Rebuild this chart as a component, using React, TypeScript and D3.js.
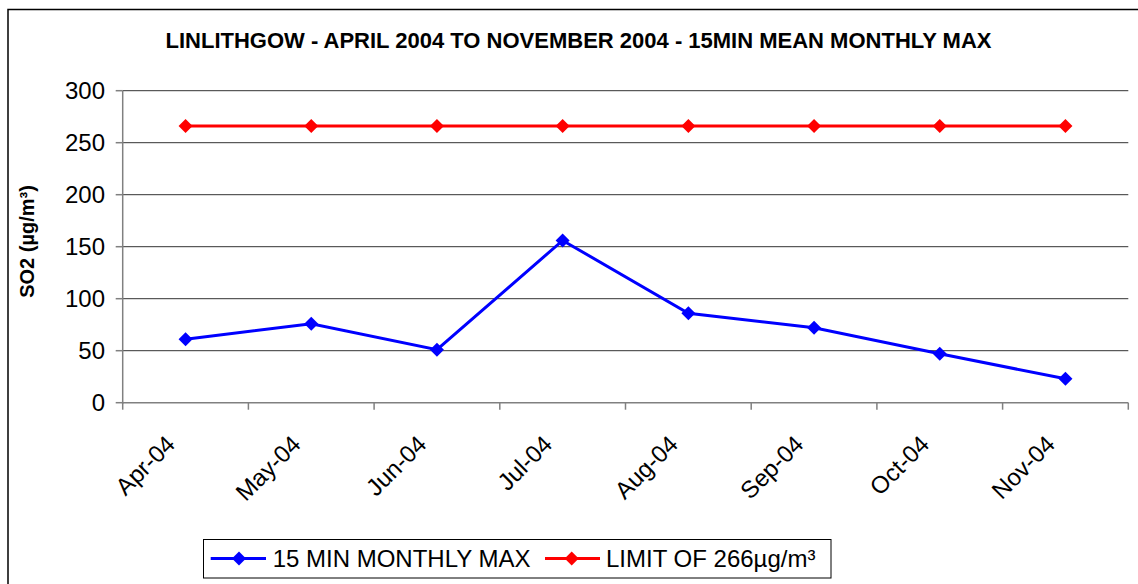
import React from "react";
import * as d3 from "d3";

const categories = ["Apr-04", "May-04", "Jun-04", "Jul-04", "Aug-04", "Sep-04", "Oct-04", "Nov-04"];
const monthlyMax = [61, 76, 51, 156, 86, 72, 47, 23];
const limitValues = [266, 266, 266, 266, 266, 266, 266, 266];
const yTicks = [0, 50, 100, 150, 200, 250, 300];
const seriesNames = ["15 MIN MONTHLY MAX", "LIMIT OF 266µg/m³"];
const title = "LINLITHGOW - APRIL 2004 TO NOVEMBER 2004 - 15MIN MEAN MONTHLY MAX";
const yTitle = "SO2 (µg/m³)";

const W = 1138;
const H = 584;
const X0 = 122.7;
const X1 = 1128.3;
const Y0 = 402.7;
const Y1 = 90.7;
const FONT = "'Liberation Sans', Arial, sans-serif";

function Diamond({ x, y, r, color }: { x: number; y: number; r: number; color: string }) {
  return <path d={`M${x},${y - r}L${x + r},${y}L${x},${y + r}L${x - r},${y}Z`} fill={color} />;
}

export default function App() {
  const x = d3.scaleBand<string>().domain(categories).range([X0, X1]).paddingInner(0).paddingOuter(0);
  const y = d3.scaleLinear().domain([0, 300]).range([Y0, Y1]);
  const cx = (c: string) => (x(c) as number) + x.bandwidth() / 2;

  const line = d3
    .line<number>()
    .x((_, i) => cx(categories[i]))
    .y((d) => y(d));

  const boundaries = d3.range(categories.length + 1).map((i) => X0 + i * x.bandwidth());

  const series = [
    { values: monthlyMax, color: "#0000FF", name: seriesNames[0] },
    { values: limitValues, color: "#FF0000", name: seriesNames[1] },
  ];

  return (
    <svg width={W} height={H} style={{ position: "absolute", left: 0, top: 0 }} fontFamily={FONT}>
      <rect x={0} y={0} width={W} height={H} fill="#fff" />
      <rect x={8} y={9.5} width={W + 20} height={H + 20} fill="none" stroke="#000" strokeWidth={1.5} />

      <text x={578.5} y={48} textAnchor="middle" fontSize={22} fontWeight="bold" fill="#000">
        {title}
      </text>

      {/* gridlines */}
      {yTicks.filter((t) => t > 0).map((t) => (
        <line key={t} x1={X0} x2={X1} y1={y(t)} y2={y(t)} stroke="#333" strokeWidth={1} />
      ))}

      {/* y axis */}
      <line x1={X0} x2={X0} y1={Y1} y2={Y0 + 1} stroke="#808080" strokeWidth={1.5} />
      {yTicks.map((t) => (
        <g key={t}>
          <line x1={X0 - 7} x2={X0} y1={y(t)} y2={y(t)} stroke="#808080" strokeWidth={1.5} />
          <text x={105} y={y(t)} dy="0.35em" textAnchor="end" fontSize={24} fill="#000">
            {t}
          </text>
        </g>
      ))}

      {/* x axis */}
      <line x1={X0} x2={X1} y1={Y0} y2={Y0} stroke="#808080" strokeWidth={1.5} />
      {boundaries.map((b, i) => (
        <line key={i} x1={b} x2={b} y1={Y0} y2={Y0 + 7} stroke="#808080" strokeWidth={1.5} />
      ))}
      {categories.map((c) => (
        <text
          key={c}
          transform={`translate(${cx(c) - 9},${Y0 + 43}) rotate(-45)`}
          textAnchor="end"
          fontSize={24}
          fill="#000"
        >
          {c}
        </text>
      ))}

      <text transform={`translate(34,241.5) rotate(-90)`} textAnchor="middle" fontSize={20} fontWeight="bold" fill="#000">
        {yTitle}
      </text>

      {/* series */}
      {series.map((s) => (
        <g key={s.name}>
          <path d={line(s.values) as string} fill="none" stroke={s.color} strokeWidth={3} />
          {s.values.map((v, i) => (
            <Diamond key={i} x={cx(categories[i])} y={y(v)} r={7} color={s.color} />
          ))}
        </g>
      ))}

      {/* legend */}
      <rect x={203.5} y={539.5} width={627.5} height={38.5} fill="#fff" stroke="#000" strokeWidth={1} />
      <line x1={210.7} x2={266} y1={558.5} y2={558.5} stroke="#0000FF" strokeWidth={3} />
      <Diamond x={239} y={558.5} r={7} color="#0000FF" />
      <text x={272.7} y={558.5} dy="0.35em" fontSize={24} fill="#000">
        {seriesNames[0]}
      </text>
      <line x1={545} x2={600} y1={558.5} y2={558.5} stroke="#FF0000" strokeWidth={3} />
      <Diamond x={571.7} y={558.5} r={7} color="#FF0000" />
      <text x={606} y={558.5} dy="0.35em" fontSize={24} fill="#000">
        {seriesNames[1]}
      </text>
    </svg>
  );
}
